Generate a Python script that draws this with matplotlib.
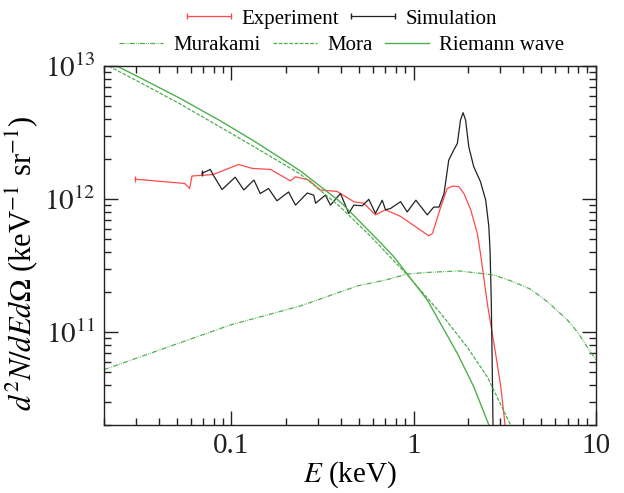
import math
import matplotlib
matplotlib.use("Agg")
import matplotlib.pyplot as plt
from matplotlib.ticker import LogLocator, FixedLocator, FuncFormatter, NullFormatter

plt.rcParams['font.family'] = ['Liberation Serif', 'DejaVu Serif']
plt.rcParams['mathtext.fontset'] = 'stix'

# Experiment (red)
exp_E = [0.0297, 0.0554, 0.059, 0.0608, 0.0796, 0.1097, 0.130, 0.164, 0.211, 0.225, 0.266,
         0.308, 0.381, 0.470, 0.533, 0.618, 0.702, 0.849, 1.21, 1.27, 1.41, 1.53, 1.63, 1.77,
         1.89, 2.06, 2.24, 2.33, 2.54, 2.82, 3.01, 3.18]
exp_N = [1.41e12, 1.31e12, 1.20e12, 1.49e12, 1.53e12, 1.82e12, 1.70e12, 1.67e12, 1.37e12,
         1.47e12, 1.39e12, 1.17e12, 1.14e12, 9.55e11, 9.3e11, 7.6e11, 8.3e11, 7.4e11, 5.3e11,
         5.5e11, 8.7e11, 1.20e12, 1.25e12, 1.24e12, 1.10e12, 8.3e11, 5.5e11, 3.9e11, 1.64e11,
         6.9e10, 3.9e10, 2.0e10]

# Simulation (black)
sim_E = [0.069, 0.0767, 0.0796, 0.0889, 0.105, 0.117, 0.133, 0.144, 0.160, 0.178, 0.206,
         0.225, 0.261, 0.283, 0.290, 0.328, 0.350, 0.397, 0.441, 0.470, 0.523, 0.568, 0.618,
         0.673, 0.702, 0.748, 0.849, 0.923, 1.03, 1.19, 1.29, 1.38, 1.47, 1.56, 1.66, 1.74,
         1.81, 1.87, 1.93, 2.01, 2.14, 2.33, 2.49, 2.59, 2.63, 2.67, 2.70, 2.73]
sim_N = [1.56e12, 1.67e12, 1.51e12, 1.18e12, 1.46e12, 1.17e12, 1.39e12, 1.10e12, 1.20e12,
         9.7e11, 1.13e12, 9.0e11, 1.11e12, 1.07e12, 9.3e11, 1.07e12, 9.0e11, 1.10e12, 7.8e11,
         9.0e11, 8.9e11, 9.95e11, 7.8e11, 9.8e11, 8.3e11, 8.5e11, 9.55e11, 8.0e11, 9.8e11,
         7.6e11, 8.7e11, 8.7e11, 1.10e12, 1.96e12, 2.33e12, 2.62e12, 3.93e12, 4.46e12, 3.93e12,
         2.47e12, 1.75e12, 1.35e12, 9.8e11, 6.2e11, 4.1e11, 1.74e11, 6.2e10, 2.0e10]

# Murakami (green dash-dot)
mur_E = [0.0199, 0.0988, 0.239, 0.491, 0.702, 0.923, 1.21, 1.77, 2.33, 2.76, 3.41, 4.39,
         5.43, 7.00, 7.93, 9.00, 10.0]
mur_N = [5.2e10, 1.13e11, 1.57e11, 2.22e11, 2.46e11, 2.73e11, 2.81e11, 2.88e11, 2.76e11,
         2.68e11, 2.43e11, 2.10e11, 1.69e11, 1.23e11, 1.00e11, 7.7e10, 6.2e10]

# Mora (green dashed)
mora_E = [0.02, 0.0316, 0.0525, 0.0871, 0.1355, 0.239, 0.397, 0.593, 0.923, 1.41, 1.97, 2.54, 3.41]
mora_N = [1.044e13, 7.52e12, 5.18e12, 3.47e12, 2.44e12, 1.54e12, 8.7e11, 5.1e11, 2.69e11,
          1.38e11, 7.7e10, 4.6e10, 2.0e10]

# Riemann wave (green solid)
rie_E = [0.02, 0.0316, 0.0525, 0.0871, 0.1355, 0.239, 0.397, 0.632, 0.780, 1.19, 1.74, 2.14, 2.59]
rie_N = [1.12e13, 8.16e12, 5.70e12, 3.87e12, 2.69e12, 1.63e12, 9.5e11, 4.98e11, 3.68e11,
         1.74e11, 6.9e10, 3.88e10, 2.0e10]

green = '#4fae4f'

fig = plt.figure(figsize=(6.24, 4.93), dpi=100)
ax = fig.add_axes([0.1667, 0.138, 0.788, 0.728])

l1, = ax.plot(exp_E, exp_N, color='#ff4a4a', lw=0.9, marker='|', ms=4, markevery=[0])
l2, = ax.plot(sim_E, sim_N, color='#222222', lw=0.9, marker='|', ms=4, markevery=[0])
l3, = ax.plot(mur_E, mur_N, color=green, lw=0.9, ls=(0, (4, 1, 0.6, 1, 0.6, 1)))
l4, = ax.plot(mora_E, mora_N, color=green, lw=0.9, ls=(0, (3, 1.2)))
l5, = ax.plot(rie_E, rie_N, color=green, lw=1.0)

ax.set_xscale('log')
ax.set_yscale('log')
ax.set_xlim(0.02, 10)
ax.set_ylim(2e10, 1e13)

ax.xaxis.set_major_locator(FixedLocator([0.1, 1, 10]))
ax.xaxis.set_major_formatter(FuncFormatter(lambda v, p: {0.1: '0.1', 1: '1', 10: '10'}.get(round(v, 3), '')))
ax.xaxis.set_minor_locator(LogLocator(base=10, subs=range(2, 10), numticks=20))
ax.xaxis.set_minor_formatter(NullFormatter())
ax.yaxis.set_major_locator(FixedLocator([1e11, 1e12, 1e13]))
ax.yaxis.set_major_formatter(FuncFormatter(lambda v, p: r'$10^{%d}$' % round(math.log10(v))))
ax.yaxis.set_minor_locator(LogLocator(base=10, subs=range(2, 10), numticks=20))
ax.yaxis.set_minor_formatter(NullFormatter())

ax.tick_params(which='both', direction='in', top=True, right=True, width=1.0, colors='#222222')
ax.tick_params(which='major', length=10, labelsize=21, pad=6)
ax.tick_params(which='minor', length=5)
for s in ax.spines.values():
    s.set_linewidth(1.0)
    s.set_color('#222222')

ax.set_xlabel(r'$E$ (keV)', fontsize=21, labelpad=0)
ax.set_ylabel(r'$d^2N/dEd\Omega$ (keV$^{-1}$ sr$^{-1}$)', fontsize=22)
ax.yaxis.set_label_coords(-0.13, 0.45)

leg_kw = dict(frameon=False, fontsize=15, handlelength=2.7, handletextpad=0.2,
              columnspacing=0.3, numpoints=2, borderpad=0, borderaxespad=0)
fig.legend([l1, l2], ['Experiment', 'Simulation'], ncol=2, loc='center',
           bbox_to_anchor=(0.543, 0.962), **leg_kw)
fig.legend([l3, l4, l5], ['Murakami', 'Mora', 'Riemann wave'], ncol=3, loc='center',
           bbox_to_anchor=(0.543, 0.908), **leg_kw)

fig.savefig('out.png', dpi=100)
